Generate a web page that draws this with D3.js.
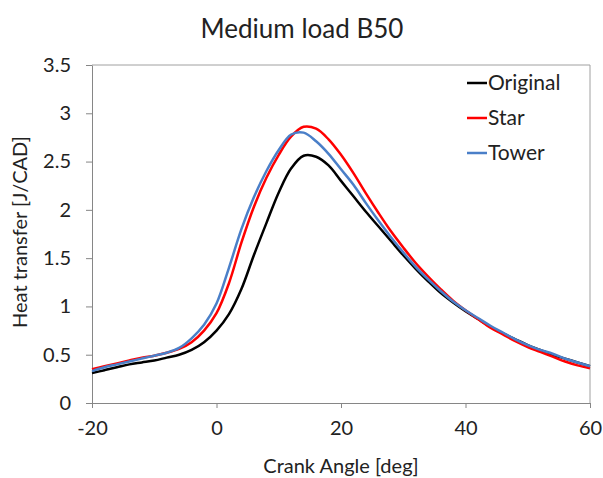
<!DOCTYPE html>
<html>
<head>
<meta charset="utf-8">
<script src="https://cdn.jsdelivr.net/npm/d3@7"></script>
<style>
  body { margin: 0; background: #fff; }
  text { font-family: Lato, "Open Sans", sans-serif; fill: #222; }
  .axis path, .axis line { stroke: #868686; }
</style>
</head>
<body>
<div id="chart"></div>
<script>
// Crank angle grid [deg]
const angles = [-20, -18, -16, -14, -12, -10, -8, -6, -4, -2, 0, 2, 4, 6, 8, 10, 12, 14, 16, 18, 20,
  22, 24, 26, 28, 30, 32, 34, 36, 38, 40, 42, 44, 46, 48, 50, 52, 54, 56, 58, 60];

// Heat transfer [J/CAD]
const original = [0.31, 0.34, 0.37, 0.40, 0.42, 0.44, 0.47, 0.50, 0.55, 0.63, 0.75, 0.92, 1.18, 1.53, 1.86, 2.18, 2.43, 2.56, 2.55, 2.46, 2.30,
  2.14, 1.98, 1.83, 1.68, 1.53, 1.39, 1.26, 1.14, 1.04, 0.95, 0.87, 0.79, 0.72, 0.66, 0.60, 0.55, 0.50, 0.46, 0.42, 0.38];
const star = [0.35, 0.38, 0.41, 0.44, 0.47, 0.49, 0.52, 0.56, 0.63, 0.75, 0.93, 1.24, 1.66, 2.03, 2.33, 2.57, 2.76, 2.86, 2.84, 2.73, 2.57,
  2.38, 2.17, 1.97, 1.78, 1.61, 1.45, 1.31, 1.18, 1.06, 0.96, 0.87, 0.78, 0.71, 0.64, 0.58, 0.53, 0.48, 0.43, 0.39, 0.36];
const tower = [0.33, 0.37, 0.40, 0.43, 0.46, 0.49, 0.52, 0.57, 0.67, 0.81, 1.03, 1.40, 1.80, 2.13, 2.40, 2.62, 2.78, 2.80, 2.71, 2.58, 2.42,
  2.26, 2.07, 1.89, 1.72, 1.56, 1.41, 1.28, 1.16, 1.05, 0.96, 0.88, 0.80, 0.73, 0.66, 0.60, 0.55, 0.51, 0.46, 0.42, 0.38];

const seriesNames = ["Original", "Star", "Tower"];
const seriesColors = ["#000000", "#ff0000", "#4a7fc8"];
const xTicks = [-20, 0, 20, 40, 60];
const yTicks = [0, 0.5, 1, 1.5, 2, 2.5, 3, 3.5];

const margin = { top: 65, right: 13, bottom: 75, left: 92 };
const width = 603 - margin.left - margin.right;
const height = 478 - margin.top - margin.bottom;

const svg = d3.select("#chart")
  .append("svg")
  .attr("width", 603)
  .attr("height", 478);

const g = svg.append("g")
  .attr("transform", `translate(${margin.left},${margin.top})`);

const x = d3.scaleLinear().domain([-20, 60]).range([0, width]);
const y = d3.scaleLinear().domain([0, 3.5]).range([height, 0]);

// frame (top and right)
g.append("path")
  .attr("d", `M0,0H${width}V${height}`)
  .attr("fill", "none")
  .attr("stroke", "#a0a0a0");

// X axis
g.append("g")
  .attr("class", "axis")
  .attr("transform", `translate(0,${height})`)
  .call(d3.axisBottom(x).tickValues(xTicks).tickSize(5).tickSizeOuter(0).tickPadding(13)
    .tickFormat(d => String(d)))
  .selectAll("text")
  .style("font-size", "20px");

// Y axis
g.append("g")
  .attr("class", "axis")
  .call(d3.axisLeft(y).tickValues(yTicks).tickSize(6).tickSizeOuter(0).tickPadding(15)
    .tickFormat(d => String(d)))
  .selectAll("text")
  .style("font-size", "20px");

// Lines
const line = d3.line()
  .x((d, i) => x(angles[i]))
  .y(d => y(d))
  .curve(d3.curveCatmullRom.alpha(0.5));

[original, star, tower].forEach((s, k) => {
  g.append("path")
    .datum(s)
    .attr("fill", "none")
    .attr("stroke", seriesColors[k])
    .attr("stroke-width", 2.5)
    .attr("d", line);
});

// Legend
const legend = svg.append("g").attr("transform", "translate(467,83)");
seriesNames.forEach((name, k) => {
  const row = legend.append("g").attr("transform", `translate(0,${k * 35})`);
  row.append("line")
    .attr("x1", 0).attr("x2", 20)
    .attr("stroke", seriesColors[k])
    .attr("stroke-width", 2.5);
  row.append("text")
    .attr("x", 21)
    .attr("dy", "0.35em")
    .style("font-size", "21px")
    .text(name);
});

// Title
svg.append("text")
  .attr("x", 302)
  .attr("y", 38)
  .attr("text-anchor", "middle")
  .style("font-size", "26px")
  .text("Medium load B50");

// Axis titles
svg.append("text")
  .attr("x", 341)
  .attr("y", 473)
  .attr("text-anchor", "middle")
  .style("font-size", "20px")
  .text("Crank Angle [deg]");

svg.append("text")
  .attr("transform", "translate(27,232) rotate(-90)")
  .attr("text-anchor", "middle")
  .style("font-size", "20px")
  .text("Heat transfer [J/CAD]");
</script>
</body>
</html>
